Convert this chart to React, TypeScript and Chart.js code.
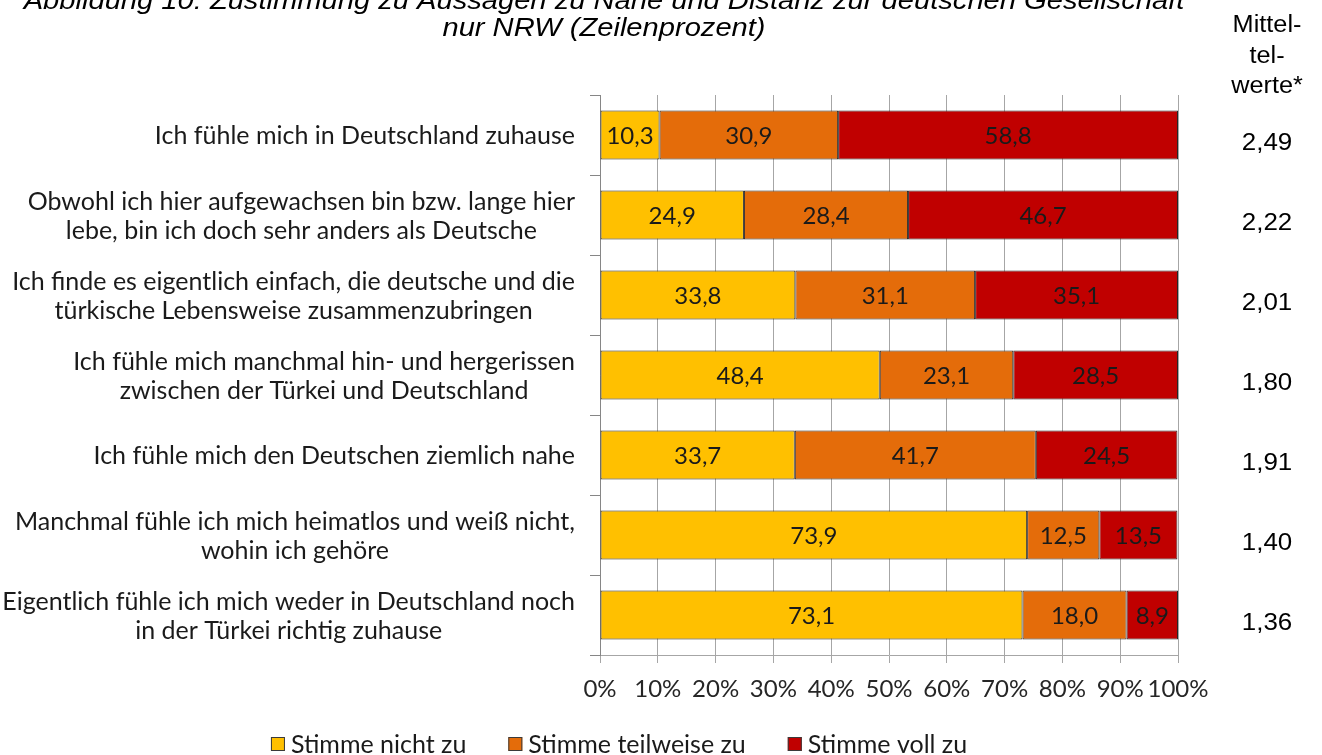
import React, { useEffect, useRef } from 'react';
import { Chart, registerables } from 'chart.js';

Chart.register(...registerables);

const titleLines = [
  'Abbildung 10: Zustimmung zu Aussagen zu Nähe und Distanz zur deutschen Gesellschaft',
  'nur NRW (Zeilenprozent)',
];
const meanHeader = ['Mittel-', 'tel-', 'werte*'];

const categories: string[][] = [
  ['Ich fühle mich in Deutschland zuhause'],
  ['Obwohl ich hier aufgewachsen bin bzw. lange hier', 'lebe, bin ich doch sehr anders als Deutsche'],
  ['Ich finde es eigentlich einfach, die deutsche und die', 'türkische Lebensweise zusammenzubringen'],
  ['Ich fühle mich manchmal hin- und hergerissen', 'zwischen der Türkei und Deutschland'],
  ['Ich fühle mich den Deutschen ziemlich nahe'],
  ['Manchmal fühle ich mich heimatlos und weiß nicht,', 'wohin ich gehöre'],
  ['Eigentlich fühle ich mich weder in Deutschland noch', 'in der Türkei richtig zuhause'],
];

const seriesNames = ['Stimme nicht zu', 'Stimme teilweise zu', 'Stimme voll zu'];
const stimmeNichtZu = [10.3, 24.9, 33.8, 48.4, 33.7, 73.9, 73.1];
const stimmeTeilweiseZu = [30.9, 28.4, 31.1, 23.1, 41.7, 12.5, 18.0];
const stimmeVollZu = [58.8, 46.7, 35.1, 28.5, 24.5, 13.5, 8.9];
const mittelwerte = [2.49, 2.22, 2.01, 1.8, 1.91, 1.4, 1.36];

const seriesColors = ['#FFC000', '#E46C0A', '#C00000'];

const LABEL_FONT = 'Lato';
const ARIAL = '"Liberation Sans", Arial, sans-serif';

const fmt = (v: number, d: number) => v.toFixed(d).replace('.', ',');

function stretchText(ctx: CanvasRenderingContext2D, text: string, x: number, y: number, sx: number) {
  ctx.save();
  ctx.translate(x, y);
  ctx.scale(sx, 1);
  ctx.fillText(text, 0, 0);
  ctx.restore();
}

const textPlugin = {
  id: 'customText',
  afterDatasetsDraw(chart: any) {
    const ctx: CanvasRenderingContext2D = chart.ctx;
    ctx.save();
    ctx.font = `24px ${LABEL_FONT}`;
    ctx.fillStyle = '#1a1a1a';
    ctx.textAlign = 'center';
    ctx.textBaseline = 'middle';
    chart.data.datasets.forEach((ds: any, di: number) => {
      const meta = chart.getDatasetMeta(di);
      meta.data.forEach((el: any, i: number) => {
        const v = ds.data[i];
        const cx = (el.x + el.base) / 2;
        ctx.fillText(fmt(v, 1), cx, el.y + 1);
      });
    });
    ctx.restore();
  },
  afterDraw(chart: any) {
    const ctx: CanvasRenderingContext2D = chart.ctx;
    const yScale = chart.scales.y;
    ctx.save();
    // category labels
    ctx.font = `25px ${LABEL_FONT}`;
    ctx.fillStyle = '#1a1a1a';
    ctx.textAlign = 'center';
    ctx.textBaseline = 'middle';
    const rightEdge = 575;
    const lh = 29;
    (chart.data.labels as string[][]).forEach((lines, i) => {
      const c = yScale.getPixelForValue(i);
      const maxW = Math.max(...lines.map((l) => ctx.measureText(l).width));
      const cx = rightEdge - maxW / 2;
      lines.forEach((l, j) => {
        ctx.fillText(l, cx, c + (j - (lines.length - 1) / 2) * lh + 1);
      });
    });
    // legend
    ctx.font = `25px ${LABEL_FONT}`;
    ctx.textAlign = 'left';
    const box = 14;
    const boxGap = 6;
    const itemGap = 42;
    const items = chart.data.datasets.map((ds: any) => ({
      text: ds.label as string,
      color: ds.backgroundColor as string,
      w: ctx.measureText(ds.label).width,
    }));
    const total =
      items.reduce((s: number, it: any) => s + box + boxGap + it.w, 0) + itemGap * (items.length - 1);
    let lx = 619 - total / 2;
    const ly = 744;
    items.forEach((it: any) => {
      ctx.fillStyle = it.color;
      ctx.fillRect(lx, ly - box / 2, box, box);
      ctx.strokeStyle = '#3a3a3a';
      ctx.lineWidth = 1;
      ctx.strokeRect(lx + 0.5, ly - box / 2 + 0.5, box - 1, box - 1);
      ctx.fillStyle = '#1a1a1a';
      ctx.fillText(it.text, lx + box + boxGap, ly + 1);
      lx += box + boxGap + it.w + itemGap;
    });
    // mean values
    ctx.textAlign = 'center';
    ctx.font = `24px ${ARIAL}`;
    ctx.fillStyle = '#000';
    ctx.textBaseline = 'alphabetic';
    mittelwerte.forEach((m, i) => {
      const c = yScale.getPixelForValue(i);
      stretchText(ctx, fmt(m, 2), 1267, c + 15, 1.08);
    });
    // mean header
    ctx.font = `23px ${ARIAL}`;
    meanHeader.forEach((t, j) => {
      stretchText(ctx, t, 1267, 32 + j * 30.5, 1.1);
    });
    // title
    ctx.font = `italic 26px ${ARIAL}`;
    titleLines.forEach((t, j) => {
      stretchText(ctx, t, 604, 9 + j * 27, 1.12);
    });
    ctx.restore();
  },
};

export default function App() {
  const ref = useRef<HTMLCanvasElement>(null);
  useEffect(() => {
    const datasetsData = [stimmeNichtZu, stimmeTeilweiseZu, stimmeVollZu];
    const chart = new Chart(ref.current as HTMLCanvasElement, {
      type: 'bar',
      data: {
        labels: categories as any,
        datasets: datasetsData.map((d, i) => ({
          label: seriesNames[i],
          data: d,
          backgroundColor: seriesColors[i],
          borderColor: '#262626',
          borderWidth: 1,
          borderSkipped: false,
          barPercentage: 0.61,
          categoryPercentage: 1,
        })),
      },
      options: {
        indexAxis: 'y',
        animation: false,
        responsive: true,
        maintainAspectRatio: false,
        layout: { padding: { top: 95, right: 144, bottom: 45, left: 0 } },
        scales: {
          x: {
            stacked: true,
            min: 0,
            max: 100,
            ticks: {
              stepSize: 10,
              autoSkip: false,
              maxRotation: 0,
              padding: 12,
              color: '#262626',
              font: { family: LABEL_FONT, size: 24 },
              callback: (v: any) => `${v}%`,
            },
            grid: { color: '#a6a6a6', lineWidth: 1, tickLength: 8 },
            border: { color: '#a6a6a6', width: 1 },
            afterFit: (s: any) => {
              s.height = 55;
            },
          },
          y: {
            stacked: true,
            ticks: { display: false },
            grid: { drawOnChartArea: false, tickLength: 10, color: '#868686', offset: true },
            border: { color: '#868686', width: 1 },
            afterFit: (s: any) => {
              s.width = 600;
            },
          },
        },
        plugins: {
          legend: { display: false },
          tooltip: { enabled: false },
        },
      } as any,
      plugins: [textPlugin],
    });
    return () => chart.destroy();
  }, []);

  return (
    <div
      style={{
        position: 'absolute',
        left: 0,
        top: 0,
        width: 1322,
        height: 755,
        overflow: 'hidden',
        background: '#fff',
      }}
    >
      <canvas ref={ref} />
    </div>
  );
}
